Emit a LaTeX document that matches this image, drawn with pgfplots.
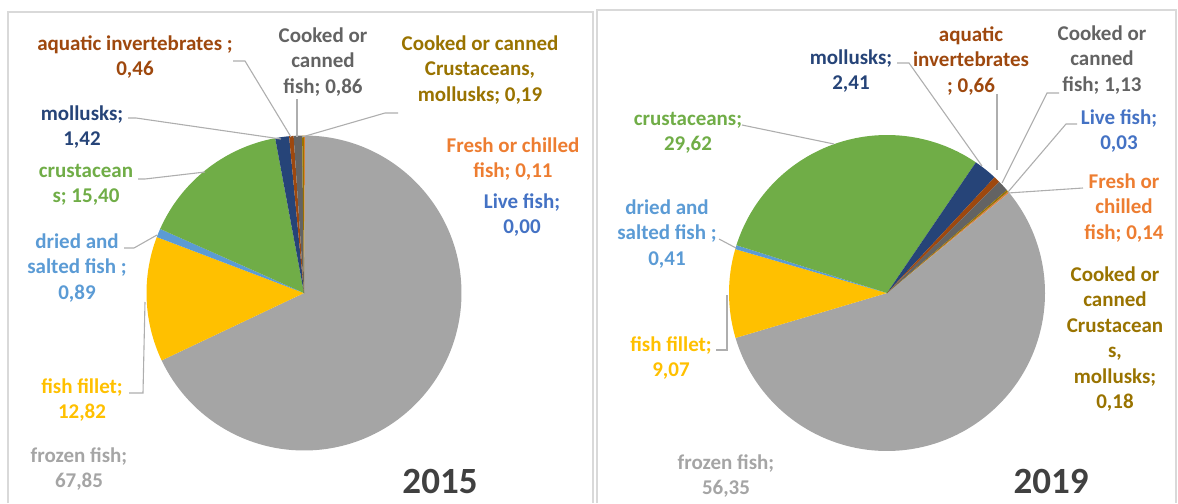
\documentclass[border=0pt]{standalone}
\usepackage{pgfplots}
\pgfplotsset{compat=1.18}
\usepackage{pgfplotstable}
\usepackage{fontspec}
\setmainfont{Carlito}

\definecolor{c0}{HTML}{4472C4}% live fish
\definecolor{c1}{HTML}{ED7D31}% fresh or chilled
\definecolor{c2}{HTML}{A5A5A5}% frozen
\definecolor{c3}{HTML}{FFC000}% fillet
\definecolor{c4}{HTML}{5B9BD5}% dried and salted
\definecolor{c5}{HTML}{70AD47}% crustaceans
\definecolor{c6}{HTML}{264478}% mollusks
\definecolor{c7}{HTML}{9E480E}% aquatic invertebrates
\definecolor{c8}{HTML}{636363}% cooked or canned fish
\definecolor{c9}{HTML}{997300}% cooked or canned crustaceans
\definecolor{yeargray}{HTML}{404040}
\definecolor{framegray}{HTML}{D9D9D9}

% shares in percent, in the order the slices are drawn
\pgfplotstableread{
cat v
live   0.00
fresh  0.11
frozen 67.85
fillet 12.82
dried  0.89
crust  15.40
moll   1.42
aqua   0.46
cfish  0.86
ccrust 0.19
}\yrA
\pgfplotstableread{
cat v
live   0.03
fresh  0.14
frozen 56.35
fillet 9.07
dried  0.41
crust  29.62
moll   2.41
aqua   0.66
cfish  1.13
ccrust 0.18
}\yrB

% #1 table, #2 cx, #3 cy, #4 first slice angle (clockwise from top), #5 radius
\newcommand\drawpie[5]{%
  \def\acc{0}%
  \pgfplotsforeachungrouped \i in {0,...,9}{%
    \pgfplotstablegetelem{\i}{v}\of#1\let\val\pgfplotsretval
    \pgfmathsetmacro\sa{90-#4-3.6*\acc}%
    \pgfmathsetmacro\acc{\acc+\val}%
    \pgfmathsetmacro\ea{90-#4-3.6*\acc}%
    \edef\temp{\noexpand\fill[c\i] (axis cs:#2,#3) -- ++(\sa:#5) arc[start angle=\sa, end angle=\ea, radius=#5] -- cycle;}%
    \temp
  }%
}

\tikzset{
  lbl/.style={align=center, inner sep=0pt, font=\bfseries\fontsize{21}{25.5}\selectfont},
  year/.style={inner sep=0pt, text=yeargray, font=\bfseries\fontsize{37}{40}\selectfont},
  lead/.style={draw=c2!90, line width=1.1pt},
}

\begin{document}
\begin{tikzpicture}
\begin{axis}[
  width=1178pt, height=503pt, scale only axis,
  xmin=0, xmax=1178, ymin=0, ymax=503, y dir=reverse,
  hide axis, clip=false,
]
\path (axis cs:0,0) rectangle (axis cs:1178,503);
\draw[framegray, line width=1.2pt] (axis cs:8,503) -- (axis cs:8,12) -- (axis cs:593,12) -- (axis cs:593,503);
\draw[framegray, line width=1.2pt] (axis cs:597,503) -- (axis cs:597,10) -- (axis cs:1176,10) -- (axis cs:1176,503);

\drawpie{\yrA}{304}{293}{0}{157.5pt}
\drawpie{\yrB}{887}{293}{50}{158pt}

% 2015 leader lines
\draw[lead] (axis cs:233,61) -- (axis cs:245,61) -- (axis cs:291,137);
\draw[lead] (axis cs:297,99) -- (axis cs:297,137);
\draw[lead] (axis cs:398,113) -- (axis cs:385,113) -- (axis cs:302,137);
\draw[lead] (axis cs:128,118) -- (axis cs:136,118) -- (axis cs:281,139);
\draw[lead] (axis cs:138,179) -- (axis cs:145,179) -- (axis cs:205,172);
\draw[lead] (axis cs:124,248) -- (axis cs:134,248) -- (axis cs:157,235);
\draw[lead] (axis cs:129,393) -- (axis cs:143,393) -- (axis cs:145,302);

% 2015 labels
\node[lbl, text=c7] at (axis cs:135,57) {aquatic invertebrates ;\\0,46};
\node[lbl, text=c8] at (axis cs:323,62) {Cooked or\\canned\\fish; 0,86};
\node[lbl, text=c9] at (axis cs:480,70) {Cooked or canned\\Crustaceans,\\mollusks; 0,19};
\node[lbl, text=c6] at (axis cs:82,127) {mollusks;\\1,42};
\node[lbl, text=c5] at (axis cs:86,185) {crustacean\\s; 15,40};
\node[lbl, text=c1] at (axis cs:513,159) {Fresh or chilled\\fish; 0,11};
\node[lbl, text=c0] at (axis cs:522,215) {Live fish;\\0,00};
\node[lbl, text=c4] at (axis cs:77,268) {dried and\\salted fish ;\\0,89};
\node[lbl, text=c3] at (axis cs:82,400) {fish fillet;\\12,82};
\node[lbl, text=c2] at (axis cs:79,469) {frozen fish;\\67,85};
\node[year] at (axis cs:440,481) {2015};

% 2019 leader lines
\draw[lead] (axis cs:897,63) -- (axis cs:909,63) -- (axis cs:982,166);
\draw[lead] (axis cs:997,94) -- (axis cs:997,170);
\draw[lead] (axis cs:1059,93) -- (axis cs:1047,93) -- (axis cs:1002,183);
\draw[lead] (axis cs:1077,124) -- (axis cs:1066,124) -- (axis cs:1008,192);
\draw[lead] (axis cs:1083,188) -- (axis cs:1008,193);
\draw[lead] (axis cs:742,125) -- (axis cs:834,144);
\draw[lead] (axis cs:719,239) -- (axis cs:736,248);
\draw[lead] (axis cs:716,350) -- (axis cs:727,350) -- (axis cs:727,295);

% 2019 labels
\node[lbl, text=c6] at (axis cs:851,71) {mollusks;\\2,41};
\node[lbl, text=c7] at (axis cs:971,61) {aquatic\\invertebrates\\; 0,66};
\node[lbl, text=c8] at (axis cs:1102,60) {Cooked or\\canned\\fish; 1,13};
\node[lbl, text=c0] at (axis cs:1119,131) {Live fish;\\0,03};
\node[lbl, text=c1] at (axis cs:1124,208) {Fresh or\\chilled\\fish; 0,14};
\node[lbl, text=c5] at (axis cs:688,133) {crustaceans;\\29,62};
\node[lbl, text=c4] at (axis cs:667,234) {dried and\\salted fish ;\\0,41};
\node[lbl, text=c9] at (axis cs:1115,339) {Cooked or\\canned\\Crustacean\\s,\\mollusks;\\0,18};
\node[lbl, text=c3] at (axis cs:671,358) {fish fillet;\\9,07};
\node[lbl, text=c2] at (axis cs:726,476) {frozen fish;\\56,35};
\node[year] at (axis cs:1051,481) {2019};
\end{axis}
\end{tikzpicture}
\end{document}
